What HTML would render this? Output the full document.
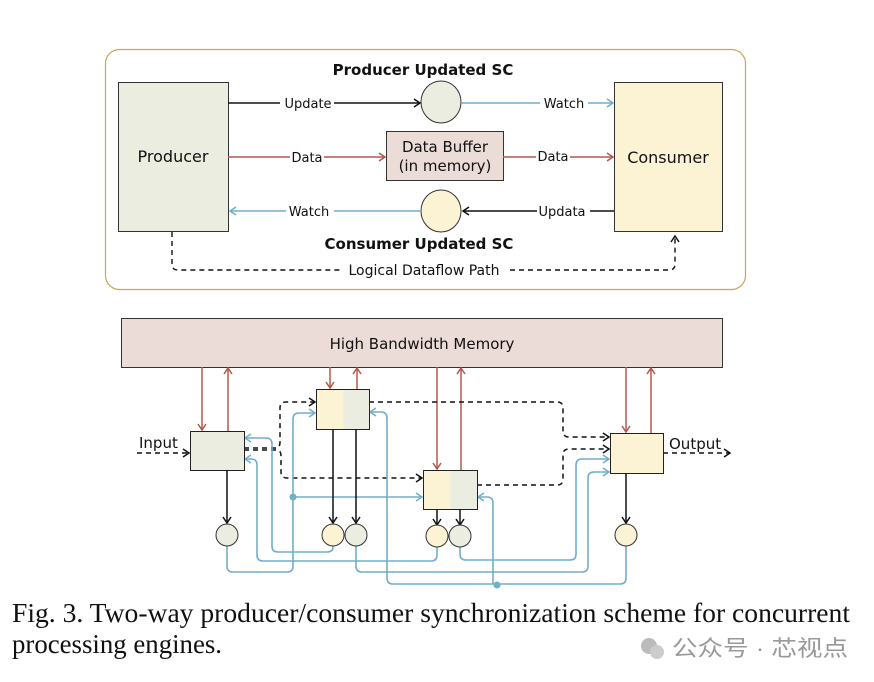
<!DOCTYPE html>
<html><head><meta charset="utf-8"><style>
html,body{margin:0;padding:0;background:#fff;}
svg{display:block}
</style></head><body>
<svg width="874" height="682" viewBox="0 0 874 682" xmlns="http://www.w3.org/2000/svg" font-family="'DejaVu Sans','Liberation Sans',sans-serif">
<defs>
<marker id="ab" markerWidth="10" markerHeight="10" refX="8" refY="5" orient="auto" markerUnits="userSpaceOnUse"><path d="M2,1 L8,5 L2,9" fill="none" stroke="#111" stroke-width="1.5"/></marker>
<marker id="ar" markerWidth="10" markerHeight="10" refX="8" refY="5" orient="auto" markerUnits="userSpaceOnUse"><path d="M2,1 L8,5 L2,9" fill="none" stroke="#b5584a" stroke-width="1.5"/></marker>
<marker id="al" markerWidth="10" markerHeight="10" refX="8" refY="5" orient="auto" markerUnits="userSpaceOnUse"><path d="M2,1 L8,5 L2,9" fill="none" stroke="#72adc9" stroke-width="1.5"/></marker>
</defs>
<!-- top diagram -->
<rect x="105.5" y="49.5" width="640" height="240" rx="14" fill="#fff" stroke="#c9a75a" stroke-width="1.2"/>
<rect x="118.5" y="82.5" width="110" height="149" fill="#eaede0" stroke="#333" stroke-width="1"/>
<rect x="614.5" y="82.5" width="108" height="149" fill="#fbf3d3" stroke="#333" stroke-width="1"/>
<text x="173" y="162" font-size="16" text-anchor="middle" fill="#111">Producer</text>
<text x="668" y="163" font-size="16" text-anchor="middle" fill="#111">Consumer</text>
<text x="423" y="75" font-size="15" font-weight="bold" text-anchor="middle" fill="#111">Producer Updated SC</text>
<text x="419" y="249" font-size="15" font-weight="bold" text-anchor="middle" fill="#111">Consumer Updated SC</text>
<ellipse cx="441" cy="102" rx="20" ry="21" fill="#eaede0" stroke="#333"/>
<ellipse cx="441" cy="211" rx="20" ry="21" fill="#fbf3d3" stroke="#333"/>
<rect x="386.5" y="131.5" width="117" height="49" fill="#ecdcd8" stroke="#333"/>
<text x="445" y="152" font-size="15" text-anchor="middle" fill="#111">Data Buffer</text>
<text x="445" y="171" font-size="15" text-anchor="middle" fill="#111">(in memory)</text>
<line x1="228" y1="103" x2="280" y2="103" stroke="#111" stroke-width="1.5"/>
<line x1="334" y1="103" x2="420" y2="103" stroke="#111" stroke-width="1.5" marker-end="url(#ab)"/>
<text x="308" y="108" font-size="13" text-anchor="middle" fill="#111">Update</text>
<line x1="461" y1="103" x2="540" y2="103" stroke="#72adc9" stroke-width="1.5"/>
<line x1="588" y1="103" x2="613" y2="103" stroke="#72adc9" stroke-width="1.5" marker-end="url(#al)"/>
<text x="564" y="108" font-size="13" text-anchor="middle" fill="#111">Watch</text>
<line x1="228" y1="157" x2="290" y2="157" stroke="#b5584a" stroke-width="1.5"/>
<line x1="324" y1="157" x2="385" y2="157" stroke="#b5584a" stroke-width="1.5" marker-end="url(#ar)"/>
<text x="307" y="162" font-size="13" text-anchor="middle" fill="#111">Data</text>
<line x1="503" y1="157" x2="536" y2="157" stroke="#b5584a" stroke-width="1.5"/>
<line x1="570" y1="157" x2="613" y2="157" stroke="#b5584a" stroke-width="1.5" marker-end="url(#ar)"/>
<text x="553" y="161" font-size="13" text-anchor="middle" fill="#111">Data</text>
<line x1="421" y1="211" x2="334" y2="211" stroke="#72adc9" stroke-width="1.5"/>
<line x1="286" y1="211" x2="230" y2="211" stroke="#72adc9" stroke-width="1.5" marker-end="url(#al)"/>
<text x="309" y="216" font-size="13" text-anchor="middle" fill="#111">Watch</text>
<line x1="614" y1="211" x2="590" y2="211" stroke="#111" stroke-width="1.5"/>
<line x1="537" y1="211" x2="463" y2="211" stroke="#111" stroke-width="1.5" marker-end="url(#ab)"/>
<text x="562" y="216" font-size="13" text-anchor="middle" fill="#111">Updata</text>
<path d="M172,232 V264 Q172,270 178,270 H340 M510,270 H669 Q675,270 675,264 V236" fill="none" stroke="#111" stroke-width="1.4" stroke-dasharray="5,4" marker-end="url(#ab)"/>
<text x="424" y="275" font-size="14" text-anchor="middle" fill="#111">Logical Dataflow Path</text>

<!-- bottom diagram -->
<rect x="121.5" y="318.5" width="601" height="49" fill="#ecdcd8" stroke="#333"/>
<text x="422" y="349" font-size="15" text-anchor="middle" fill="#111">High Bandwidth Memory</text>
<g stroke="#b5584a" stroke-width="1.5" fill="none">
<line x1="202" y1="367" x2="202" y2="430" marker-end="url(#ar)"/>
<line x1="228" y1="431" x2="228" y2="368" marker-end="url(#ar)"/>
<line x1="330" y1="367" x2="330" y2="388" marker-end="url(#ar)"/>
<line x1="357" y1="389" x2="357" y2="368" marker-end="url(#ar)"/>
<line x1="437" y1="367" x2="437" y2="469" marker-end="url(#ar)"/>
<line x1="461" y1="470" x2="461" y2="368" marker-end="url(#ar)"/>
<line x1="626" y1="367" x2="626" y2="432" marker-end="url(#ar)"/>
<line x1="651" y1="433" x2="651" y2="368" marker-end="url(#ar)"/>
</g>
<g stroke="#111" stroke-width="1.5" fill="none" stroke-dasharray="5,4">
<line x1="137" y1="453" x2="189" y2="453" marker-end="url(#ab)"/>
<line x1="663" y1="453" x2="730" y2="453" marker-end="url(#ab)"/>
<path d="M244,448 H276 Q280,448 280,442 V408 Q280,402 286,402 H315" marker-end="url(#ab)"/>
<path d="M244,450 H276 Q281,450 281,456 V472 Q281,478 287,478 H422" marker-end="url(#ab)"/>
<path d="M369,402 H557 Q563,402 563,408 V431 Q563,437 569,437 H609" marker-end="url(#ab)"/>
<path d="M477,485 H557 Q563,485 563,479 V455 Q563,449 569,449 H609" marker-end="url(#ab)"/>
</g>
<g stroke="#72adc9" stroke-width="1.6" fill="none">
<path d="M227,546 V566 Q227,572 233,572 H287 Q293,572 293,566 V419 Q293,413 299,413 H315" marker-end="url(#al)"/>
<path d="M293,497 H422" marker-end="url(#al)"/>
<path d="M333,546 V547 Q333,552 327,552 H278 Q272,552 272,546 V444 Q272,438 266,438 H245" marker-end="url(#al)"/>
<path d="M437,547 V555 Q437,561 431,561 H263 Q257,561 257,555 V465 Q257,459 251,459 H245" marker-end="url(#al)"/>
<path d="M356,546 V566 Q356,572 362,572 H582 Q588,572 588,566 V478 Q588,472 594,472 H609" marker-end="url(#al)"/>
<path d="M460,547 V554 Q460,560 466,560 H570 Q576,560 576,554 V465 Q576,459 582,459 H609" marker-end="url(#al)"/>
<path d="M626,546 V578 Q626,584 620,584 H393 Q387,584 387,578 V418 Q387,412 381,412 H370" marker-end="url(#al)"/>
<path d="M493,584 V503 Q493,497 487,497 H478" marker-end="url(#al)"/>
</g>
<circle cx="293" cy="497" r="3.5" fill="#72adc9"/>
<circle cx="497" cy="585" r="3.5" fill="#72adc9"/>
<rect x="190.5" y="431.5" width="54" height="39" fill="#eaede0" stroke="#222"/>
<rect x="316.5" y="389.5" width="27" height="40" fill="#fbf3d3" stroke="none"/>
<rect x="343.5" y="389.5" width="26" height="40" fill="#eaede0" stroke="none"/>
<rect x="316.5" y="389.5" width="53" height="40" fill="none" stroke="#222"/>
<rect x="423.5" y="470.5" width="27" height="39" fill="#fbf3d3"/>
<rect x="450.5" y="470.5" width="27" height="39" fill="#eaede0"/>
<rect x="423.5" y="470.5" width="54" height="39" fill="none" stroke="#222"/>
<rect x="610.5" y="433.5" width="53" height="40" fill="#fbf3d3" stroke="#222"/>
<text x="139" y="448" font-size="15" fill="#111">Input</text>
<text x="669" y="449" font-size="15" fill="#111">Output</text>
<g stroke="#111" stroke-width="1.5">
<line x1="227" y1="470" x2="227" y2="523" marker-end="url(#ab)"/>
<line x1="333" y1="429" x2="333" y2="523" marker-end="url(#ab)"/>
<line x1="356" y1="429" x2="356" y2="523" marker-end="url(#ab)"/>
<line x1="437" y1="509" x2="437" y2="525" marker-end="url(#ab)"/>
<line x1="460" y1="509" x2="460" y2="525" marker-end="url(#ab)"/>
<line x1="626" y1="473" x2="626" y2="523" marker-end="url(#ab)"/>
</g>
<g stroke="#333" stroke-width="1">
<circle cx="227" cy="535" r="11" fill="#eaede0"/>
<circle cx="333" cy="535" r="11" fill="#fbf3d3"/>
<circle cx="356" cy="535" r="11" fill="#eaede0"/>
<circle cx="437" cy="536" r="11" fill="#fbf3d3"/>
<circle cx="460" cy="536" r="11" fill="#eaede0"/>
<circle cx="626" cy="535" r="11" fill="#fbf3d3"/>
</g>
<text x="12" y="622" font-family="'Liberation Serif',serif" font-size="27" fill="#111" textLength="838" lengthAdjust="spacingAndGlyphs">Fig. 3.  Two-way producer/consumer synchronization scheme for concurrent</text>
<text x="12" y="653" font-family="'Liberation Serif',serif" font-size="27" fill="#111" textLength="210" lengthAdjust="spacingAndGlyphs">processing engines.</text>
<circle cx="649" cy="646" r="8" fill="#bbb"/><circle cx="657" cy="652" r="7" fill="#ccc"/>
<text x="672" y="656" font-family="'Liberation Sans','Noto Sans CJK SC',sans-serif" font-size="22" fill="#999" textLength="176" lengthAdjust="spacingAndGlyphs">公众号 · 芯视点</text>
</svg>
</body></html>
